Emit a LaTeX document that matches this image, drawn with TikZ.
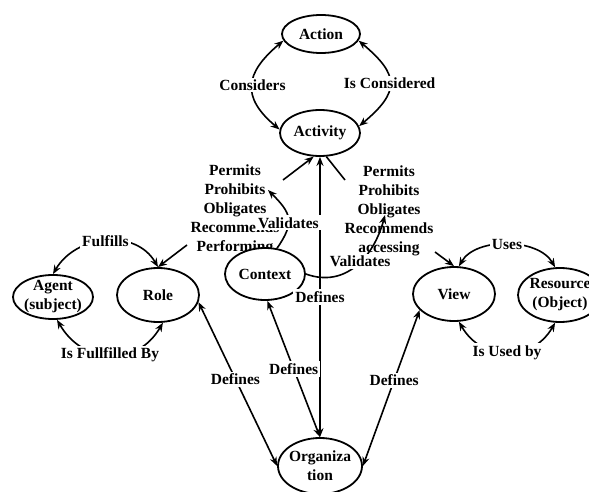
\documentclass[tikz,border=0pt]{standalone}
\usepackage{fontspec}
\setmainfont{Liberation Serif}
\usetikzlibrary{shapes.geometric,arrows.meta}
\begin{document}
\begin{tikzpicture}[x=1pt,y=1pt,
  every node/.style={font=\fontsize{15.5}{19}\selectfont\bfseries},
  ell/.style={draw, ellipse, line width=1.8pt, fill=white, inner sep=0pt},
  con/.style={line width=1.6pt},
  dbl/.style={con, {Stealth[length=9pt,width=7pt]}-{Stealth[length=9pt,width=7pt]}},
  sgl/.style={con, -{Stealth[length=9pt,width=7pt]}},
  lbl/.style={fill=white, inner sep=2pt},
  blk/.style={align=center}]
\useasboundingbox (0,0) rectangle (589,491);
% text blocks
\node[blk] (lblock) at (235,281) {Permits\\Prohibits\\Obligates\\Recommends\\Performing};
\node[blk] (rblock) at (389,280) {Permits\\Prohibits\\Obligates\\Recommends\\accessing};
% ellipses
\node[ell, minimum width=78, minimum height=38, label={center:Action}] (action) at (321,457) {};
\node[ell, minimum width=80, minimum height=46, label={center:Activity}] (activity) at (320,358) {};
\node[ell, minimum width=80, minimum height=44, label={[align=center]center:Agent\\(subject)}] (agent) at (53,194) {};
\node[ell, minimum width=82, minimum height=54, label={center:Role}] (role) at (158,196) {};
\node[ell, minimum width=80, minimum height=52, label={center:Context}] (context) at (265,217) {};
\node[ell, minimum width=82, minimum height=54, label={center:View}] (view) at (454,197) {};
\node[ell, minimum width=84, minimum height=54, label={[align=center]center:Resource\\(Object)}] (resource) at (560,196) {};
\node[ell, minimum width=84, minimum height=56, label={[align=center]center:Organiza\\tion}] (org) at (320,25) {};
% Action / Activity
\draw[dbl] (action.190) to[out=220,in=140,looseness=1.45] node[lbl]{Considers} (activity.175);
\draw[dbl] (action.-10) to[out=-40,in=40,looseness=1.6] node[lbl]{Is Considered} (activity.10);
% Agent / Role
\draw[dbl] (agent.north) to[out=60,in=120,looseness=1.1] node[lbl]{Fulfills} (role.north);
\draw[dbl] (role.-80) to[out=240,in=300,looseness=1.25] node[lbl]{Is Fullfilled By} (agent.-80);
% View / Resource
\draw[dbl] (view.80) to[out=60,in=120,looseness=0.9] node[lbl]{Uses} (resource.100);
\draw[dbl] (resource.-100) to[out=240,in=300,looseness=1.23] node[lbl]{Is Used by} (view.-80);
% Defines
\draw[dbl] (activity.south) -- node[lbl]{Defines} (org.north);
\draw[dbl] (role.-10) -- node[lbl,pos=0.47]{Defines} (org.west);
\draw[dbl] (context.-85) -- node[lbl]{Defines} (org.north);
\draw[dbl] (view.205) -- node[lbl,pos=0.45]{Defines} (org.east);
% block connectors
\coordinate (la) at (283,311);
\coordinate (ra) at (345,311);
\coordinate (lr) at (187,246);
\coordinate (rv) at (435,239);
\draw[sgl] (la) -- (activity.255);
\draw[con] (ra) -- (activity.285);
\draw[sgl] (lr) -- (role.north);
\draw[sgl] (rv) -- (view.north);
% Validates
\coordinate (lv) at (268,301);
\coordinate (rvl) at (385,276);
\draw[sgl] (context.65) to[out=55,in=-45,looseness=1.4] node[lbl,pos=0.4]{Validates} (lv);
\draw[sgl] (context.east) to[out=-20,in=-105,looseness=1.1] node[lbl,pos=0.55]{Validates} (rvl);
\end{tikzpicture}
\end{document}
